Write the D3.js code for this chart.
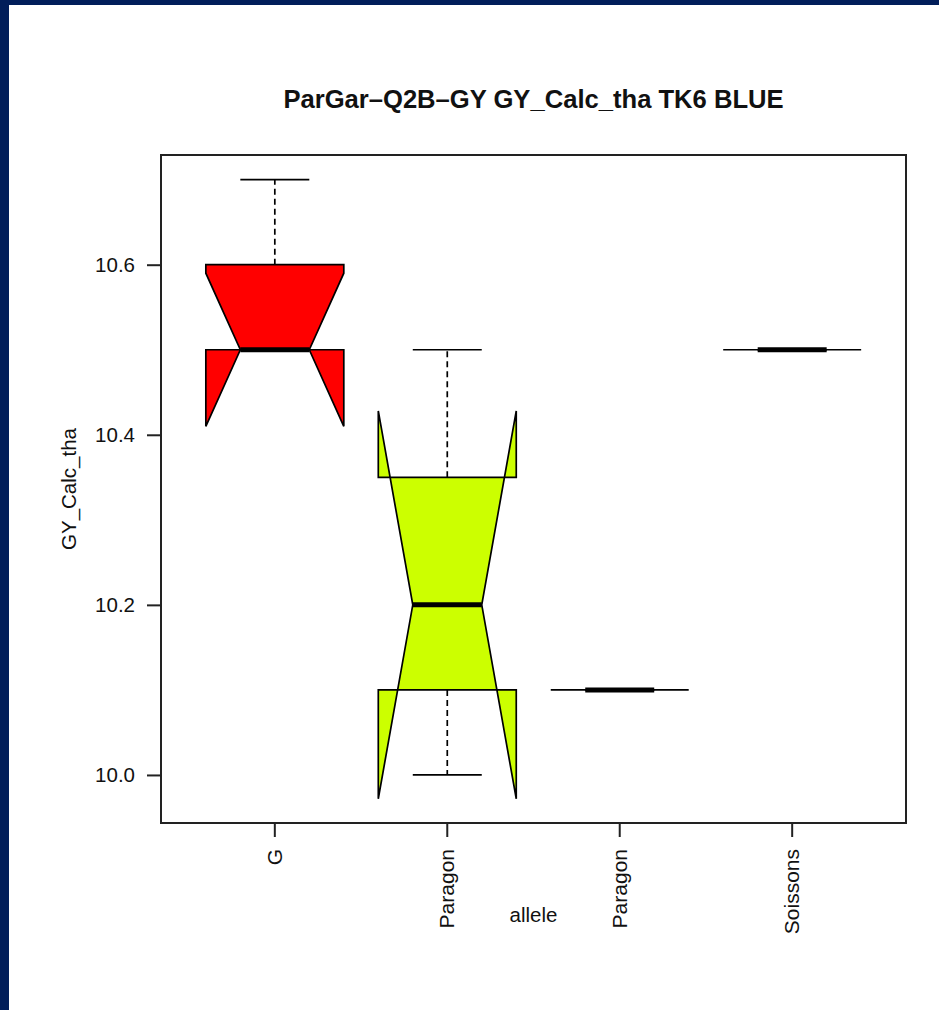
<!DOCTYPE html>
<html>
<head>
<meta charset="utf-8">
<script src="https://cdn.jsdelivr.net/npm/d3@7"></script>
<style>
  html, body { margin: 0; padding: 0; background: #011e5a; }
  svg { display: block; font-family: "Liberation Sans", Arial, Helvetica, sans-serif; }
</style>
</head>
<body>
<svg id="chart" width="939" height="1010"></svg>
<script>
// box statistics per group
const categories = ['G', 'Paragon', 'Paragon', 'Soissons'];
const fills = ['#ff0000', '#ccff00', '#ccff00', '#ff0000'];
const whiskerLow = [10.5, 10.0, 10.1, 10.5];
const q1 = [10.5, 10.1, 10.1, 10.5];
const median = [10.5, 10.2, 10.1, 10.5];
const q3 = [10.6, 10.35, 10.1, 10.5];
const whiskerHigh = [10.7, 10.5, 10.1, 10.5];
const notchLow = [10.41, 9.972, 10.1, 10.5];
const notchHigh = [10.59, 10.428, 10.1, 10.5];
const yTicks = [10.0, 10.2, 10.4, 10.6];

const title = 'ParGar\u2013Q2B\u2013GY GY_Calc_tha TK6 BLUE';
const yLabel = 'GY_Calc_tha';
const xLabel = 'allele';

const svg = d3.select('#chart');

// white page inside the navy border
svg.append('rect')
  .attr('x', 9).attr('y', 5)
  .attr('width', 930).attr('height', 1005)
  .attr('fill', 'white');

const frame = { left: 161, right: 906, top: 155, bottom: 823 };

const x = d3.scaleLinear()
  .domain([0.34, 4.66])
  .range([frame.left, frame.right]);

const y = d3.scaleLinear()
  .domain([9.9435, 10.729])
  .range([frame.bottom, frame.top]);

const halfW = x(1.4) - x(1);
const nf = 0.5; // notch fraction

const boxes = categories.map((c, i) => ({
  i, c, fill: fills[i],
  wl: whiskerLow[i], q1: q1[i], med: median[i], q3: q3[i], wh: whiskerHigh[i],
  nl: notchLow[i], nh: notchHigh[i]
}));

const g = svg.append('g');

// notched box polygon, same point order as R's bxp
g.selectAll('polygon.box')
  .data(boxes)
  .join('polygon')
  .attr('class', 'box')
  .attr('points', d => {
    const cx = x(d.i + 1);
    const xs = [-1, 1, 1, nf, 1, 1, -1, -1, -nf, -1].map(k => cx + k * halfW);
    const ys = [d.q1, d.q1, d.nl, d.med, d.nh, d.q3, d.q3, d.nh, d.med, d.nl].map(v => y(v));
    return xs.map((v, k) => v + ',' + ys[k]).join(' ');
  })
  .attr('fill', d => d.fill)
  .attr('stroke', 'black')
  .attr('stroke-width', 1.7)
  .attr('stroke-linejoin', 'miter');

// whiskers
g.selectAll('line.whisk-lo')
  .data(boxes)
  .join('line')
  .attr('x1', d => x(d.i + 1)).attr('x2', d => x(d.i + 1))
  .attr('y1', d => y(d.q1)).attr('y2', d => y(d.wl))
  .attr('stroke', 'black').attr('stroke-width', 1.7)
  .attr('stroke-dasharray', '6,4');

g.selectAll('line.whisk-hi')
  .data(boxes)
  .join('line')
  .attr('x1', d => x(d.i + 1)).attr('x2', d => x(d.i + 1))
  .attr('y1', d => y(d.q3)).attr('y2', d => y(d.wh))
  .attr('stroke', 'black').attr('stroke-width', 1.7)
  .attr('stroke-dasharray', '6,4');

// staples
['wl', 'wh'].forEach(k => {
  g.selectAll('line.staple-' + k)
    .data(boxes)
    .join('line')
    .attr('x1', d => x(d.i + 1) - halfW * 0.5)
    .attr('x2', d => x(d.i + 1) + halfW * 0.5)
    .attr('y1', d => y(d[k])).attr('y2', d => y(d[k]))
    .attr('stroke', 'black').attr('stroke-width', 1.7);
});

// medians
g.selectAll('line.median')
  .data(boxes)
  .join('line')
  .attr('x1', d => x(d.i + 1) - halfW * nf)
  .attr('x2', d => x(d.i + 1) + halfW * nf)
  .attr('y1', d => y(d.med)).attr('y2', d => y(d.med))
  .attr('stroke', 'black').attr('stroke-width', 5);

// frame
svg.append('rect')
  .attr('x', frame.left).attr('y', frame.top)
  .attr('width', frame.right - frame.left)
  .attr('height', frame.bottom - frame.top)
  .attr('fill', 'none')
  .attr('stroke', '#222').attr('stroke-width', 2);

// y axis
const yAxis = svg.append('g')
  .attr('transform', `translate(${frame.left},0)`)
  .call(d3.axisLeft(y).tickValues(yTicks).tickSize(14).tickPadding(12).tickFormat(d3.format('.1f')));
yAxis.select('.domain').remove();
yAxis.selectAll('.tick line').attr('stroke', '#222').attr('stroke-width', 2);
yAxis.selectAll('.tick text')
  .attr('font-size', 20.5).attr('fill', '#111')
  .attr('font-family', '"Liberation Sans", Arial, sans-serif');

// x axis with rotated labels
const xTicks = svg.append('g').attr('class', 'x-axis');
xTicks.selectAll('line')
  .data(categories)
  .join('line')
  .attr('x1', (d, i) => x(i + 1)).attr('x2', (d, i) => x(i + 1))
  .attr('y1', frame.bottom).attr('y2', frame.bottom + 14)
  .attr('stroke', '#222').attr('stroke-width', 2);
xTicks.selectAll('text')
  .data(categories)
  .join('text')
  .attr('transform', (d, i) => `translate(${x(i + 1) + 7},${frame.bottom + 26}) rotate(-90)`)
  .attr('text-anchor', 'end')
  .attr('font-size', 21)
  .attr('fill', '#111')
  .text(d => d);

// titles
svg.append('text')
  .attr('x', (frame.left + frame.right) / 2)
  .attr('y', 108)
  .attr('text-anchor', 'middle')
  .attr('font-size', 25.6)
  .attr('font-weight', 'bold')
  .attr('fill', '#111')
  .text(title);

svg.append('text')
  .attr('transform', `translate(76,${(frame.top + frame.bottom) / 2}) rotate(-90)`)
  .attr('text-anchor', 'middle')
  .attr('font-size', 20.5)
  .attr('fill', '#111')
  .text(yLabel);

svg.append('text')
  .attr('x', (frame.left + frame.right) / 2)
  .attr('y', 922)
  .attr('text-anchor', 'middle')
  .attr('font-size', 20.5)
  .attr('fill', '#111')
  .text(xLabel);
</script>
</body>
</html>
